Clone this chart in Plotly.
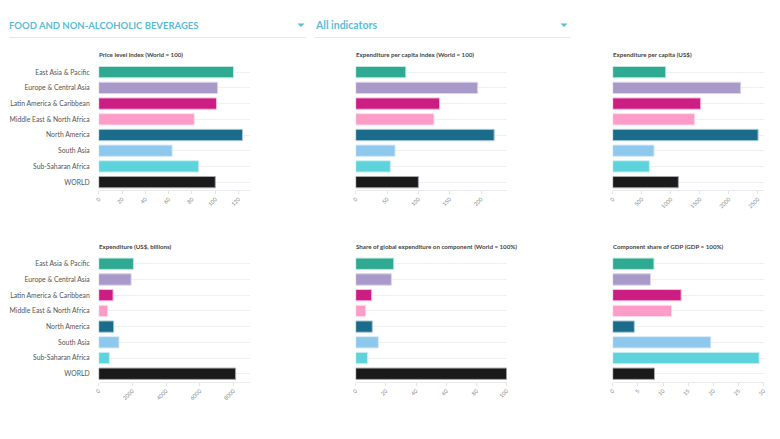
import plotly.graph_objects as go

W, H = 780, 439
FONT = "Lato, 'Noto Sans', sans-serif"

regions = ["East Asia & Pacific", "Europe & Central Asia", "Latin America & Caribbean",
           "Middle East & North Africa", "North America", "South Asia", "Sub-Saharan Africa", "WORLD"]
colors = ["#2fa992", "#a899c9", "#cc1d83", "#fd9cc7", "#1b6b8a", "#8ec8ec", "#5fd3dc", "#1a1a1a"]
borders = ["#bfe8e0", "#dcd5ea", "#f5bfdc", "#ffdcec", "#a9cbd8", "#d6ebf8", "#c6f0f3", "#a8a8a8"]

price_index = [115.6, 102, 101, 82, 123.3, 63, 85.8, 100]
per_capita_index = [80, 194.7, 134, 125, 221, 62.8, 55.3, 100]
per_capita_usd = [914, 2207, 1517, 1414, 2506, 713, 632, 1132]
expenditure = [2064, 1925, 853, 536, 893, 1210, 635, 8135]
global_share = [25.2, 23.6, 10.6, 6.6, 11, 15, 7.9, 100]
gdp_share = [8.2, 7.5, 13.6, 11.7, 4.3, 19.5, 29.1, 8.3]

titles = ["Price level index (World = 100)", "Expenditure per capita index (World = 100)",
          "Expenditure per capita (US$)", "Expenditure (US$, billions)",
          "Share of global expenditure on component (World = 100%)", "Component share of GDP (GDP = 100%)"]
series = [price_index, per_capita_index, per_capita_usd, expenditure, global_share, gdp_share]
ticks = [[0, 20, 40, 60, 80, 100, 120], [0, 50, 100, 150, 200], [0, 500, 1000, 1500, 2000, 2500],
         [0, 2000, 4000, 6000, 8000], [0, 20, 40, 60, 80, 100], [0, 5, 10, 15, 20, 25, 30]]
maxes = [129.5, 241, 2603, 8970, 100, 30]

lefts = [98.7, 355.7, 612.7]
pw = 151
tops = [64.3, 255.9]
ph = 125.7

fig = go.Figure()
annotations, shapes = [], []
for i in range(6):
    r, c = divmod(i, 3)
    n = "" if i == 0 else str(i + 1)
    x0, y0 = lefts[c], tops[r]
    fig.add_trace(go.Bar(
        y=regions, x=series[i], orientation="h", width=0.72,
        marker=dict(color=colors, line=dict(color=borders, width=1)),
        xaxis="x" + n, yaxis="y" + n, showlegend=False))
    fig.layout["xaxis" + n] = dict(
        domain=[x0 / W, (x0 + pw) / W], range=[0, maxes[i]], anchor="y" + n,
        tickmode="array", tickvals=ticks[i], ticktext=[str(t) for t in ticks[i]],
        tickangle=-45, tickfont=dict(size=5.5, color="#888", family=FONT),
        ticks="outside", ticklen=3, tickcolor="#e2e4e8", showgrid=False, zeroline=False,
        showline=True, linecolor="#e8eaed", linewidth=1)
    fig.layout["yaxis" + n] = dict(
        domain=[1 - (y0 + ph) / H, 1 - y0 / H], anchor="x" + n, autorange="reversed",
        categoryorder="array", categoryarray=regions,
        showticklabels=c == 0, tickfont=dict(size=6.8, color="#555", family=FONT),
        ticks="", ticklabelstandoff=8, showgrid=True, gridcolor="#eef0f3", gridwidth=1,
        zeroline=False, showline=False)
    annotations.append(dict(
        x=x0 / W, y=1 - (y0 - 9.5) / H, xref="paper", yref="paper", xanchor="left", yanchor="middle", xshift=-2,
        text="<b>" + titles[i] + "</b>", showarrow=False, font=dict(size=6.2, color="#444", family=FONT)))

for text, x, size in [("FOOD AND NON-ALCOHOLIC BEVERAGES", 9, 9.5), ("All indicators", 315, 10.5)]:
    annotations.append(dict(
        x=x / W, y=1 - 25 / H, xref="paper", yref="paper", xanchor="left", yanchor="middle", xshift=-2,
        text="<b>" + text + "</b>", showarrow=False, font=dict(size=size, color="#5bbcd6", family=FONT)))
for a, b in [(9, 306), (315, 570)]:
    shapes.append(dict(type="line", xref="paper", yref="paper", x0=a / W, x1=b / W,
                       y0=1 - 37.5 / H, y1=1 - 37.5 / H, line=dict(color="#dcedf2", width=1)))
for cx in [301, 564]:
    shapes.append(dict(type="path", xref="paper", yref="paper",
                       path=f"M {(cx-3.5)/W} {1-23.5/H} L {(cx+3.5)/W} {1-23.5/H} L {cx/W} {1-27/H} Z",
                       fillcolor="#5bbcd6", line=dict(width=0)))

fig.update_layout(width=W, height=H, margin=dict(l=0, r=0, t=0, b=0, autoexpand=False), paper_bgcolor="white",
                  plot_bgcolor="white", annotations=annotations, shapes=shapes,
                  font=dict(family=FONT), bargap=0.28)
fig.write_html("out.html", config={"displayModeBar": False},
               post_script="document.body.style.margin='0';document.body.style.overflow='hidden';")
